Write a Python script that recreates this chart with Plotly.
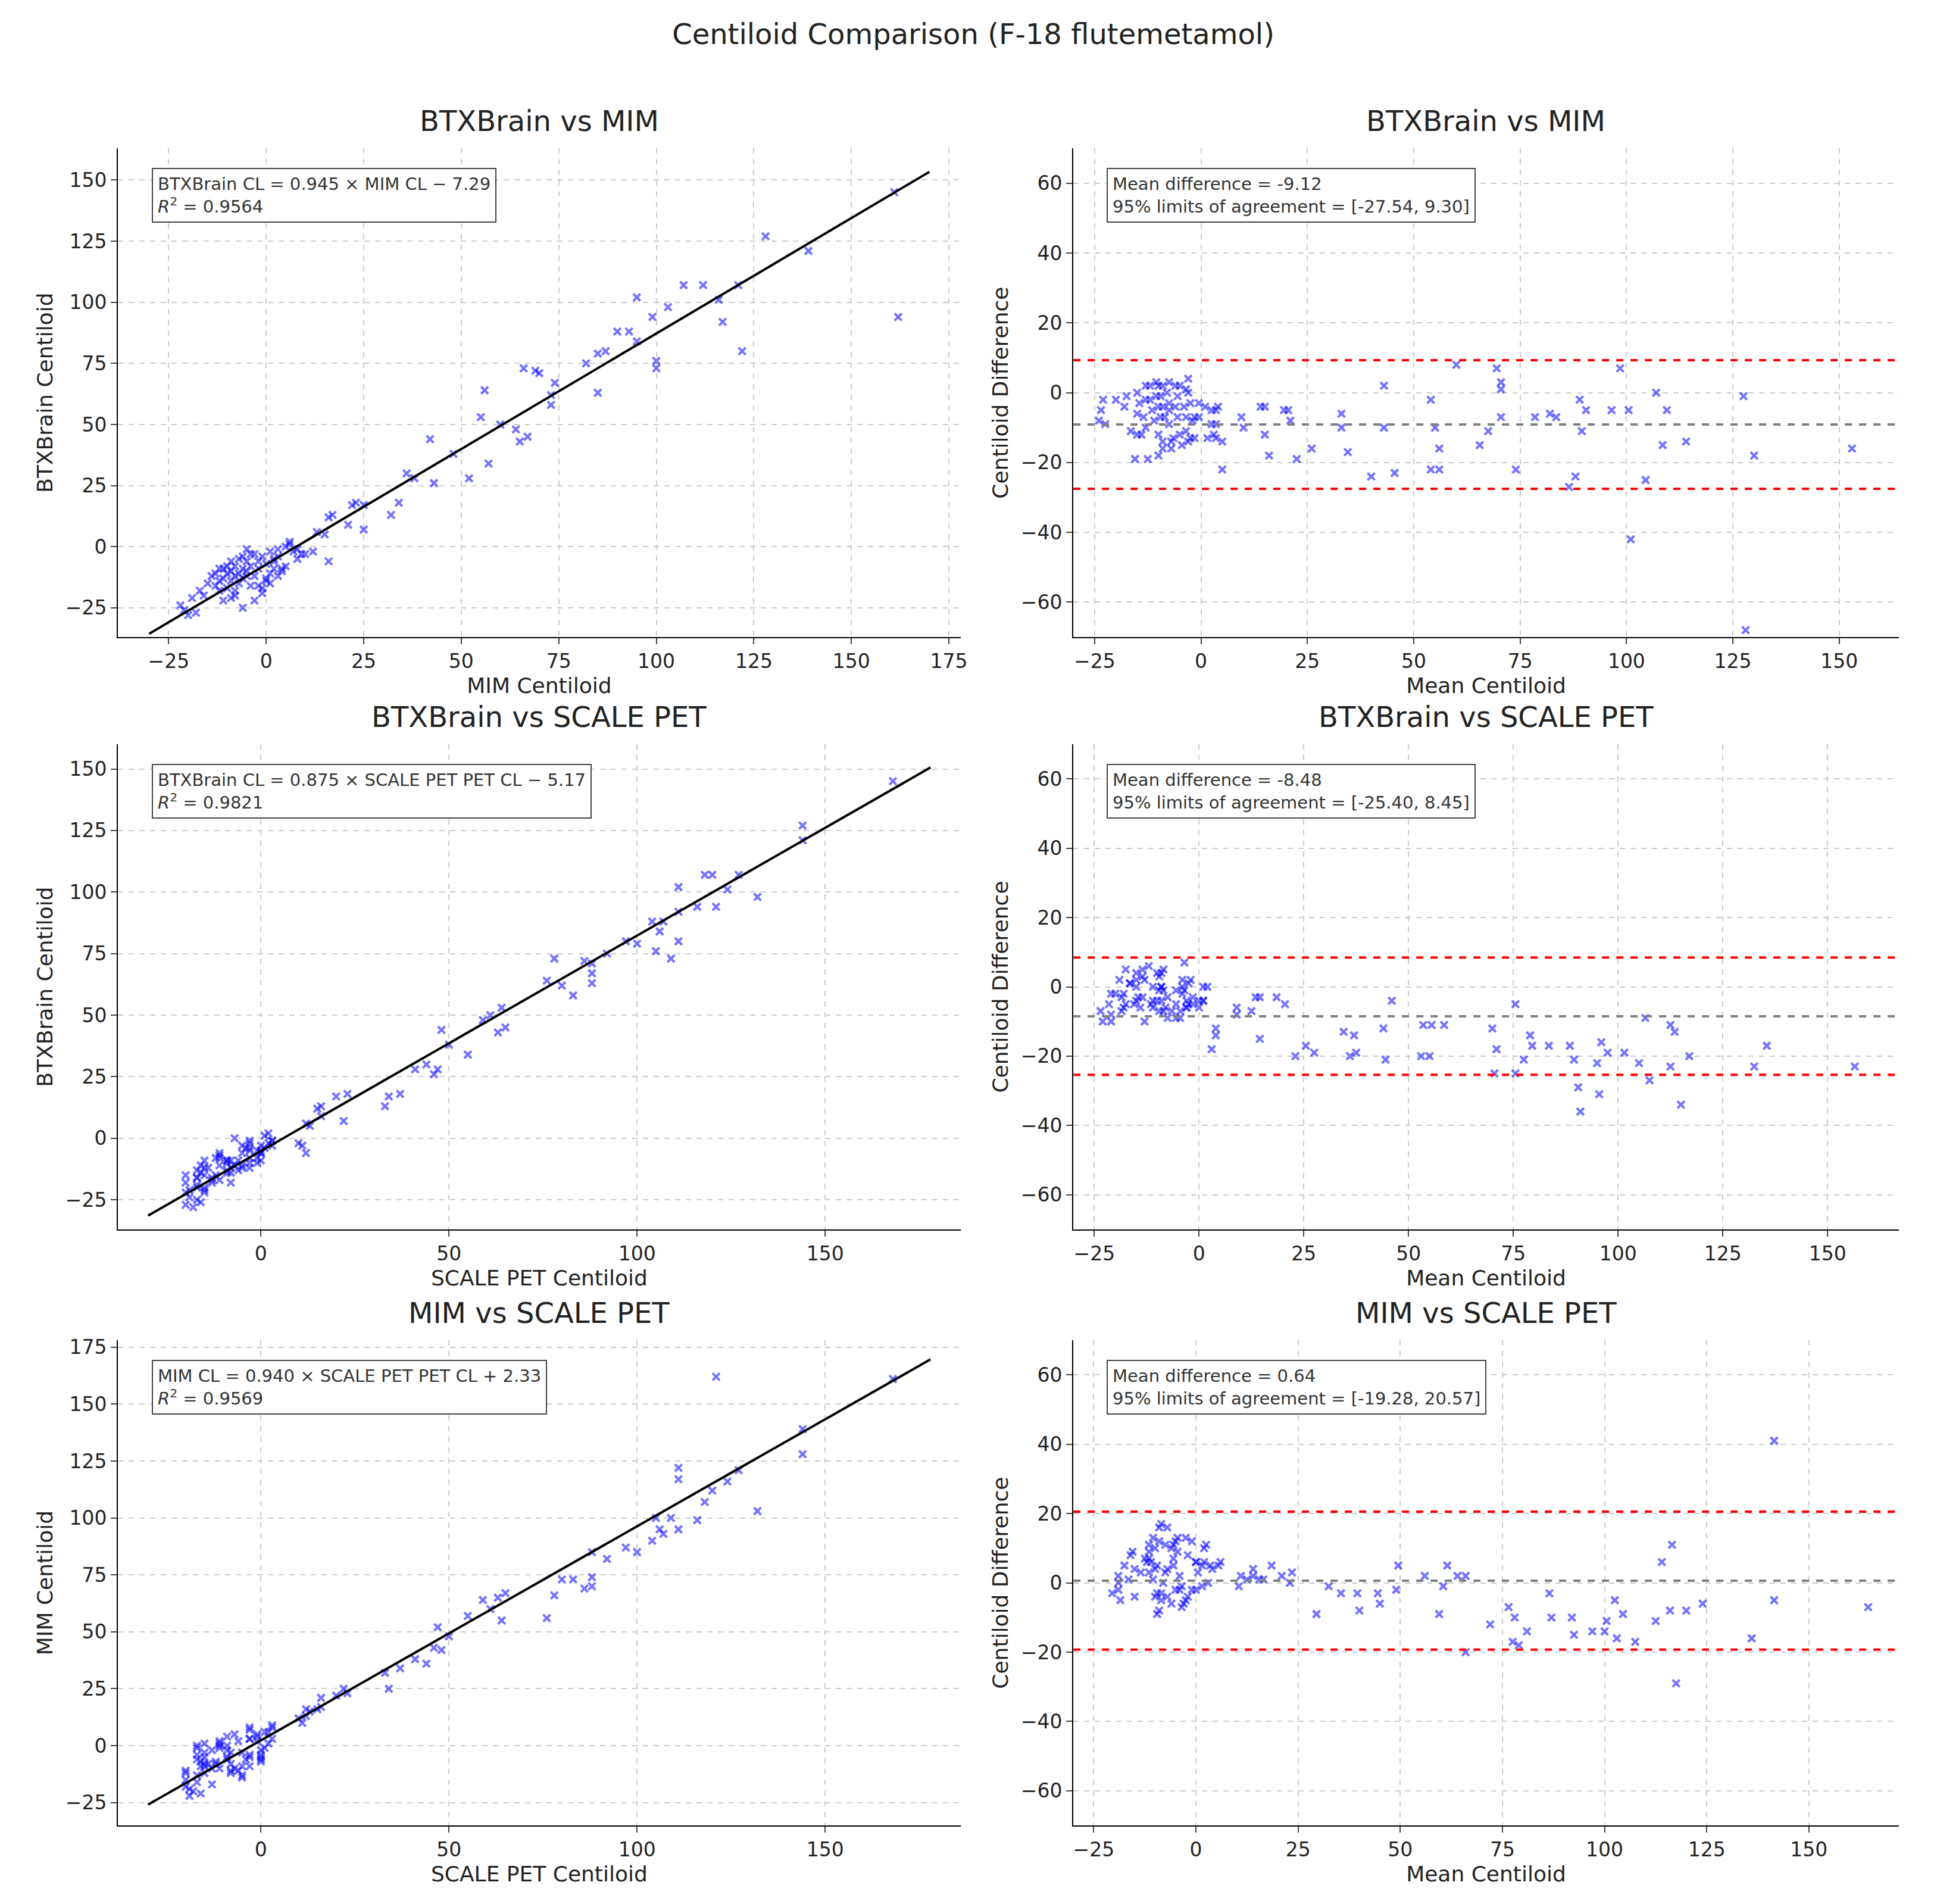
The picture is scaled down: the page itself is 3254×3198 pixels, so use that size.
import numpy as np
import plotly.graph_objects as go
from plotly.subplots import make_subplots

# per-subject centiloid values
mim = [161, 162, 139, 128, 122, 117, 116, 121, 112, 107, 103, 100, 100, 99, 95, 95, 93, 90, 87, 85,
       85, 82, 74, 73, 73, 69, 70, 66, 67, 65, 64, 60, 57, 56, 55, 52, 48, 43, 42, 38,
       36, 34, 32, 25, 25, 23, 22, 21, 17, 16, 15, 16, 13, 12, 10,
       9, 8, 8, 7, 6, 5, 5, 4, 3, 3, 2, 2, 1, 1, 0, 0, -1, -1, -2, -2,
       -3, -3, -4, -4, -5, -5, -5, -6, -6, -6, -7, -7, -7, -8, -8, -8, -9, -9, -9, -10,
       -10, -10, -11, -11, -11, -12, -12, -13, -13, -14, -15, -16, -17, -18, -19, -20, -21, -22,
       -6, -4, -2, 0, 2, 4, 6, -8, -12, -3, 1, 3, -5, -9, -1]
btx = [145, 94, 121, 127, 80, 92, 101, 107, 107, 107, 98, 76, 73, 94, 102, 84, 88, 88, 80, 79,
       63, 75, 67, 62, 58, 72, 71, 73, 45, 43, 48, 50, 34, 64, 53, 28, 38, 26, 44, 28,
       30, 18, 13, 17, 7, 18, 17, 9, 13, 12, 5, -6, 6, -2, -3,
       -3, -5, -1, -2, 2, -8, 0, -10, -4, -12, -6, -9, -2, -11, -7, -14, -4, -19, -9, -6,
       -12, -3, -8, -16, -10, -6, -1, -13, -4, -9, -11, -15, -5, -12, -8, -20, -10, -14, -6, -17,
       -11, -8, -13, -22, -9, -14, -18, -11, -16, -12, -15, -20, -18, -27, -21, -28, -26, -24,
       -25, -3, -16, -13, -5, -9, 1, -18, -9, -22, -15, -1, -12, -21, -17]
scale = [168, 121, 144, 144, 111, 111, 124, 127, 120, 118, 132, 105, 109, 116, 111, 106, 107, 104, 97, 100,
         88, 92, 88, 80, 83, 86, 88, 78, 65, 63, 59, 61, 55, 76, 64, 47, 50, 46, 48, 41,
         44, 37, 33, 34, 22, 23, 20, 16, 16, 15, 13, 12, 12, 10, 11,
         3, -3, 3, -3, 2, -1, -7, -1, -3, -3, -11, -6, 2, -11, -11, -9, 1, -17, -9, 0,
         -8, -5, -3, -17, -9, 0, -3, -9, -4, 0, -16, -12, 0, -14, -12, -15, -3, -16, -5, -13,
         -7, -11, -6, -20, -8, -8, -20, -5, -17, -5, -20, -17, -13, -20, -19, -18, -16, -19,
         -17, 0, -13, -17, -1, -9, 1, -8, -15, -15, -15, 3, -15, -15, -11]

# regression coefficients shown in the annotation boxes
fits = [(0.945, -7.29, 0.9564), (0.875, -5.17, 0.9821), (0.940, 2.33, 0.9569)]
# Bland-Altman statistics shown in the reference: mean difference, lower, upper limit
ba_mean = [-9.12, -8.48, 0.64]
ba_lo = [-27.54, -25.40, -19.28]
ba_hi = [9.30, 8.45, 20.57]

mim, btx, scale = np.array(mim, float), np.array(btx, float), np.array(scale, float)
pairs = [(mim, btx, "MIM Centiloid", "BTXBrain Centiloid", "BTXBrain vs MIM",
          "BTXBrain CL = 0.945 × MIM CL − 7.29", (-30, 170), (-37, 163), (-30, 164)),
         (scale, btx, "SCALE PET Centiloid", "BTXBrain Centiloid", "BTXBrain vs SCALE PET",
          "BTXBrain CL = 0.875 × SCALE PET PET CL − 5.17", (-30, 178), (-37, 160), (-30, 167)),
         (scale, mim, "SCALE PET Centiloid", "MIM Centiloid", "MIM vs SCALE PET",
          "MIM CL = 0.940 × SCALE PET PET CL + 2.33", (-30, 178), (-35, 178), (-30, 172))]

fig = make_subplots(rows=3, cols=2, subplot_titles=[t for p in pairs for t in (p[4], p[4])],
                    horizontal_spacing=0.06, vertical_spacing=0.06)

mk = dict(symbol="x-thin", size=12, color="blue", line=dict(width=4, color="rgba(0,0,255,0.55)"))
for i, (x, y, xl, yl, title, eq, lx, yr, bxr) in enumerate(pairs):
    r = i + 1
    a, b, r2 = fits[i]
    fig.add_trace(go.Scatter(x=x, y=y, mode="markers", marker=mk), row=r, col=1)
    fig.add_trace(go.Scatter(x=list(lx), y=[a * lx[0] + b, a * lx[1] + b], mode="lines",
                             line=dict(color="black", width=4)), row=r, col=1)
    fig.update_xaxes(range=[lx[0] - 8, lx[1] + 8], dtick=25 if i == 0 else 50,
                     title_text=xl, row=r, col=1)
    fig.update_yaxes(range=list(yr), dtick=25, title_text=yl, row=r, col=1)

    md, lo, hi = ba_mean[i], ba_lo[i], ba_hi[i]
    fig.add_trace(go.Scatter(x=(x + y) / 2, y=y - x, mode="markers", marker=mk), row=r, col=2)
    for yv, c in [(hi, "red"), (md, "gray"), (lo, "red")]:
        fig.add_trace(go.Scatter(x=list(bxr), y=[yv, yv], mode="lines",
                                 line=dict(color=c, width=4, dash="dash")), row=r, col=2)
    fig.update_xaxes(range=list(bxr), dtick=25, title_text="Mean Centiloid", row=r, col=2)
    fig.update_yaxes(range=[-70, 70], dtick=20, title_text="Centiloid Difference", row=r, col=2)

    n1, n2 = 2 * i + 1, 2 * i + 2
    xa = "x" if n1 == 1 else f"x{n1}"
    ya = "y" if n1 == 1 else f"y{n1}"
    fig.add_annotation(xref=xa + " domain", yref=ya + " domain", x=0.04, y=0.96,
                       xanchor="left", yanchor="top", align="left", showarrow=False,
                       text=f"{eq}<br><i>R</i><sup>2</sup> = {r2:.4f}",
                       font=dict(size=29, color="#333"), bgcolor="white",
                       bordercolor="#444", borderwidth=2, borderpad=8)
    fig.add_annotation(xref=f"x{n2} domain", yref=f"y{n2} domain", x=0.04, y=0.96,
                       xanchor="left", yanchor="top", align="left", showarrow=False,
                       text=f"Mean difference = {md:.2f}<br>95% limits of agreement = [{lo:.2f}, {hi:.2f}]",
                       font=dict(size=29, color="#333"), bgcolor="white",
                       bordercolor="#444", borderwidth=2, borderpad=8)

# domains to match the reference layout
xdom = [(0.053, 0.494), (0.553, 0.985)]
ydom = [(0.670, 0.930), (0.355, 0.613), (0.038, 0.296)]
for i in range(3):
    for j in range(2):
        n = 2 * i + j + 1
        sx = "xaxis" if n == 1 else f"xaxis{n}"
        sy = "yaxis" if n == 1 else f"yaxis{n}"
        fig.layout[sx].domain = xdom[j]
        fig.layout[sy].domain = ydom[i]
for k, ann in enumerate(fig.layout.annotations[:6]):
    i, j = divmod(k, 2)
    ann.x = sum(xdom[j]) / 2
    ann.y = ydom[i][1] + 0.005
    ann.font = dict(size=48, color="#222")

axstyle = dict(showgrid=True, gridcolor="#cccccc", griddash="dash", gridwidth=2,
               showline=True, linecolor="black", linewidth=2, ticks="outside",
               ticklen=10, tickwidth=2, zeroline=False, tickfont=dict(size=33),
               title_font=dict(size=36), title_standoff=10)
fig.update_xaxes(**axstyle)
fig.update_yaxes(**axstyle)
fig.update_layout(width=3254, height=3198, showlegend=False, plot_bgcolor="white",
                  paper_bgcolor="white", font=dict(family="DejaVu Sans", color="#222"),
                  title=dict(text="Centiloid Comparison (F-18 flutemetamol)", x=0.5, y=0.99,
                             font=dict(size=48)),
                  margin=dict(l=20, r=20, t=20, b=20))
fig.write_html("out.html")
